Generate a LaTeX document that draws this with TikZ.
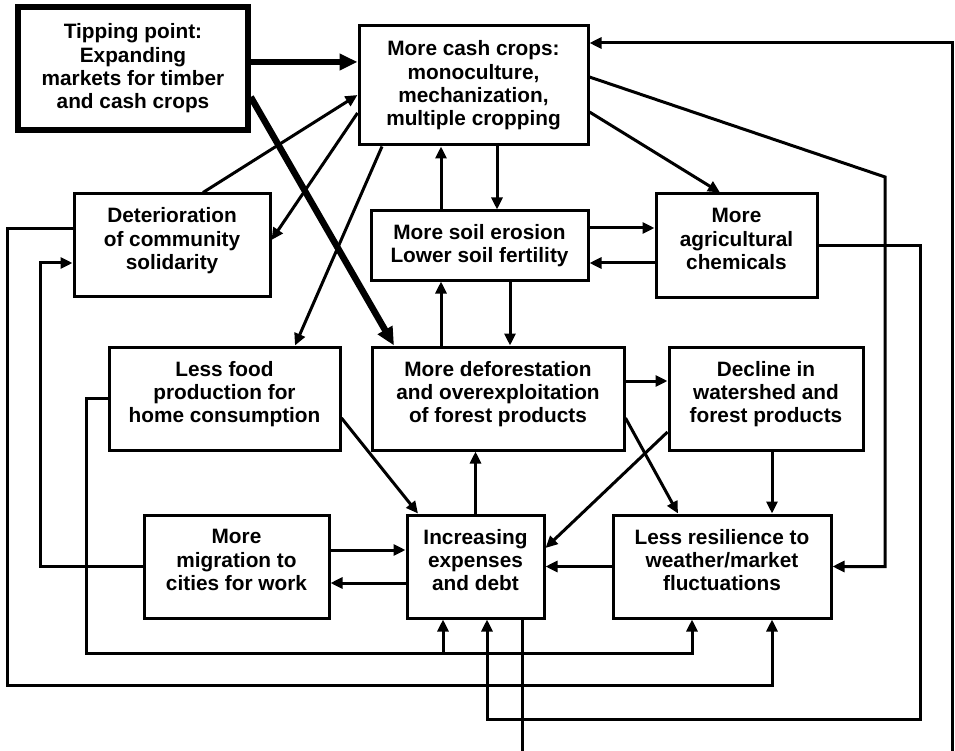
\documentclass[tikz,border=0pt]{standalone}
\usepackage{fontspec}
\setmainfont{Liberation Sans}
\usetikzlibrary{shapes,arrows.meta,calc}

\begin{document}
\begin{tikzpicture}[x=1pt, y=-1pt,
  box/.style={draw, line width=3pt, align=center, inner sep=0pt, font=\fontsize{20.8}{23.4}\selectfont\bfseries},
  tribox/.style={box, text depth=13pt, minimum height=103pt},
  arr/.style={line width=3pt, -{Triangle[length=12pt,width=11pt]}},
  bigarr/.style={line width=6.5pt, -{Triangle[length=18pt,width=16pt]}},
  wire/.style={line width=3pt}]
\useasboundingbox (0,0) rectangle (955,751);
\node[box, line width=5.5pt, minimum width=230pt, minimum height=123pt] (tip) at (133,68.5) {Tipping point:\\Expanding\\markets for timber\\and cash crops};
\node[box, minimum width=229pt, minimum height=119pt] (cash) at (473.5,85.5) {More cash crops:\\monoculture,\\mechanization,\\multiple cropping};
\node[tribox, minimum width=196pt, minimum height=102pt] (deter) at (172,245) {Deterioration\\of community\\solidarity};
\node[box, minimum width=217pt, minimum height=69pt] (soil) at (479.5,245.5) {More soil erosion\\Lower soil fertility};
\node[tribox, minimum width=161pt] (chem) at (736.5,245.5) {More\\agricultural\\chemicals};
\node[tribox, minimum width=231pt] (food) at (224.5,398.5) {Less food\\production for\\home consumption};
\node[tribox, minimum width=252pt] (defor) at (498,398.5) {More deforestation\\and overexploitation\\of forest products};
\node[tribox, minimum width=194pt] (decl) at (766,398.5) {Decline in\\watershed and\\forest products};
\node[tribox, minimum width=185pt] (migr) at (236.5,566.5) {More\\migration to\\cities for work};
\node[tribox, minimum width=137pt] (exp) at (475.5,566.5) {Increasing\\expenses\\and debt};
\node[tribox, minimum width=218pt] (resil) at (722,566.5) {Less resilience to\\weather/market\\fluctuations};
\coordinate (cutA) at (522,751);
\coordinate (cutB) at (952,751);

\draw[bigarr] ($(tip.east)+(0,-6.5)$) -- ($(cash.west)+(0,-23.5)$);
\draw[bigarr] ($(tip.east)+(0,28.5)$) -- ($(defor.north)+(-104,0)$);
\draw[arr] ($(deter.north)+(31,0)$) -- ($(cash.west)+(0,9.5)$);
\draw[arr] ($(cash.west)+(0,27.5)$) -- ($(deter.east)+(0,-5)$);
\draw[arr] ($(cash.south)+(-91.5,0)$) -- ($(food.north)+(70.5,0)$);
\draw[arr] ($(soil.north)+(-38.5,0)$) -- ($(cash.south)+(-32.5,0)$);
\draw[arr] ($(cash.south)+(23.5,0)$) -- ($(soil.north)+(17.5,0)$);
\draw[arr] ($(cash.east)+(0,26.5)$) -- ($(chem.north)+(-16.5,0)$);
\draw[arr] ($(cash.east)+(0,-8.5)$) -- (885,177) |- (resil.east);
\draw[arr] ($(deter.west)+(0,-16)$) -| (7,685) -| ($(resil.south)+(50,0)$);
\draw[arr] (migr.west) -- ++(-102,0) |- ($(deter.west)+(0,18)$);
\draw[arr] (food.west) -- ++(-21,0) |- ($(resil.south)+(-30,34)$) -- ($(resil.south)+(-30,0)$);
\draw[arr] ($(exp.south)+(-32.5,34)$) -- ($(exp.south)+(-32.5,0)$);
\draw[arr] ($(food.east)+(0,19.5)$) -- ($(exp.north)+(-57.5,0)$);
\draw[arr] ($(migr.east)+(0,-16.5)$) -- ($(exp.west)+(0,-16.5)$);
\draw[arr] ($(exp.west)+(0,16.5)$) -- ($(migr.east)+(0,16.5)$);
\draw[arr] (exp.north) -- ($(defor.south)+(-22.5,0)$);
\draw[arr] ($(defor.north)+(-57,0)$) -- ($(soil.south)+(-38.5,0)$);
\draw[arr] ($(soil.south)+(30.5,0)$) -- ($(defor.north)+(12,0)$);
\draw[arr] ($(soil.east)+(0,-17.5)$) -- ($(chem.west)+(0,-17.5)$);
\draw[arr] ($(chem.west)+(0,17.5)$) -- ($(soil.east)+(0,17.5)$);
\draw[arr] ($(defor.east)+(0,-17.5)$) -- ($(decl.west)+(0,-17.5)$);
\draw[arr] ($(defor.east)+(0,19.5)$) -- ($(resil.north)+(-44,0)$);
\draw[arr] ($(decl.west)+(0,33.5)$) -- ($(exp.east)+(0,-18.5)$);
\draw[arr] ($(decl.south)+(6,0)$) -- ($(resil.north)+(50,0)$);
\draw[arr] (resil.west) -- (exp.east);
\draw[arr] (chem.east) -| (920,719) -| ($(exp.south)+(11.5,0)$);
\draw[wire] ($(exp.south)+(46.5,0)$) -- (cutA);
\draw[arr] (cutB) |- ($(cash.east)+(0,-42.5)$);
\end{tikzpicture}
\end{document}
